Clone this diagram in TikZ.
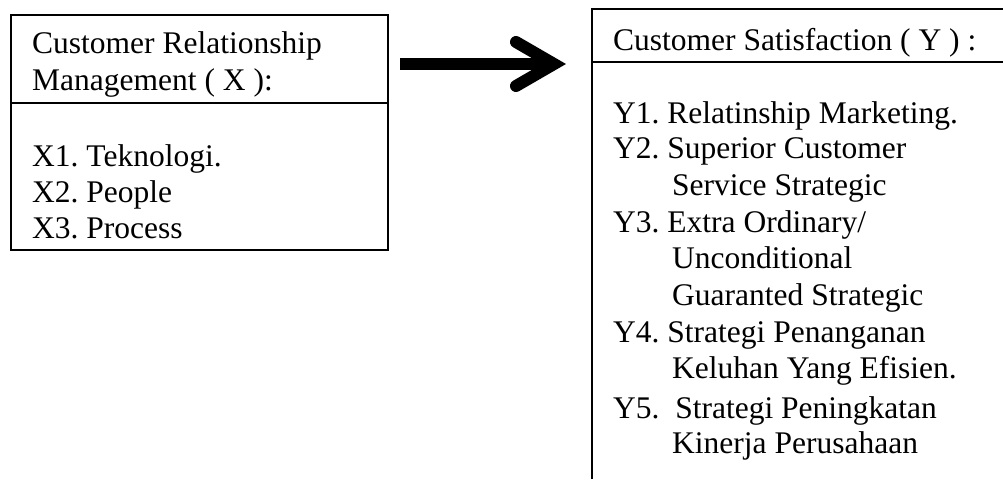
\documentclass[tikz,border=0pt]{standalone}
\usepackage{fontspec}
\setmainfont{Liberation Serif}
\usetikzlibrary{calc}
\frenchspacing
\begin{document}
\begin{tikzpicture}[x=1pt,y=-1pt,
  frame/.style={line width=2pt, draw=black},
  txt/.style={anchor=base west, inner sep=0pt, font=\fontsize{31.5}{36.5}\selectfont},
  fat/.style={line width=12pt}]
\useasboundingbox (0,0) rectangle (1003,479);
% left box
\draw[frame] (11,15) rectangle (388,250);
\draw[frame] (11,103) -- (388,103);
% right box (open to the right and bottom)
\draw[frame] (592,479) -- (592,9) -- (1003,9);
\draw[frame] (592,62) -- (1003,62);
% texts left
\node[txt] (l1) at (32,53) {Customer Relationship};
\node[txt] (l2) at (32,90) {Management ( X ):};
\node[txt] (x1) at (32,166) {X1. Teknologi.};
\node[txt] (x2) at (32,202) {X2. People};
\node[txt] (x3) at (32,238) {X3. Process};
% texts right
\node[txt] (r1) at (613,50) {Customer Satisfaction ( Y ) :};
\node[txt] (y1) at (613,123) {Y1. Relatinship Marketing.};
\node[txt] (y2) at (613,158) {Y2. Superior Customer};
\node[txt] (y2b) at (672,195) {Service Strategic};
\node[txt] (y3) at (613,232) {Y3. Extra Ordinary/};
\node[txt] (y3b) at (672,268) {Unconditional};
\node[txt] (y3c) at (672,305) {Guaranted Strategic};
\node[txt] (y4) at (613,342) {Y4. Strategi Penanganan};
\node[txt] (y4b) at (672,378) {Keluhan Yang Efisien.};
\node[txt] (y5) at (613,418) {Y5.\ \ Strategi Peningkatan};
\node[txt] (y5b) at (672,453) {Kinerja Perusahaan};
% arrow
\coordinate (as) at (400,64);
\coordinate (ae) at (554,64);
\draw[fat] (as) -- (ae);
\draw[fat, line cap=round, line join=miter] ($(ae)+(-38,-22)$) -- (ae) -- ($(ae)+(-38,22)$);
\end{tikzpicture}
\end{document}
